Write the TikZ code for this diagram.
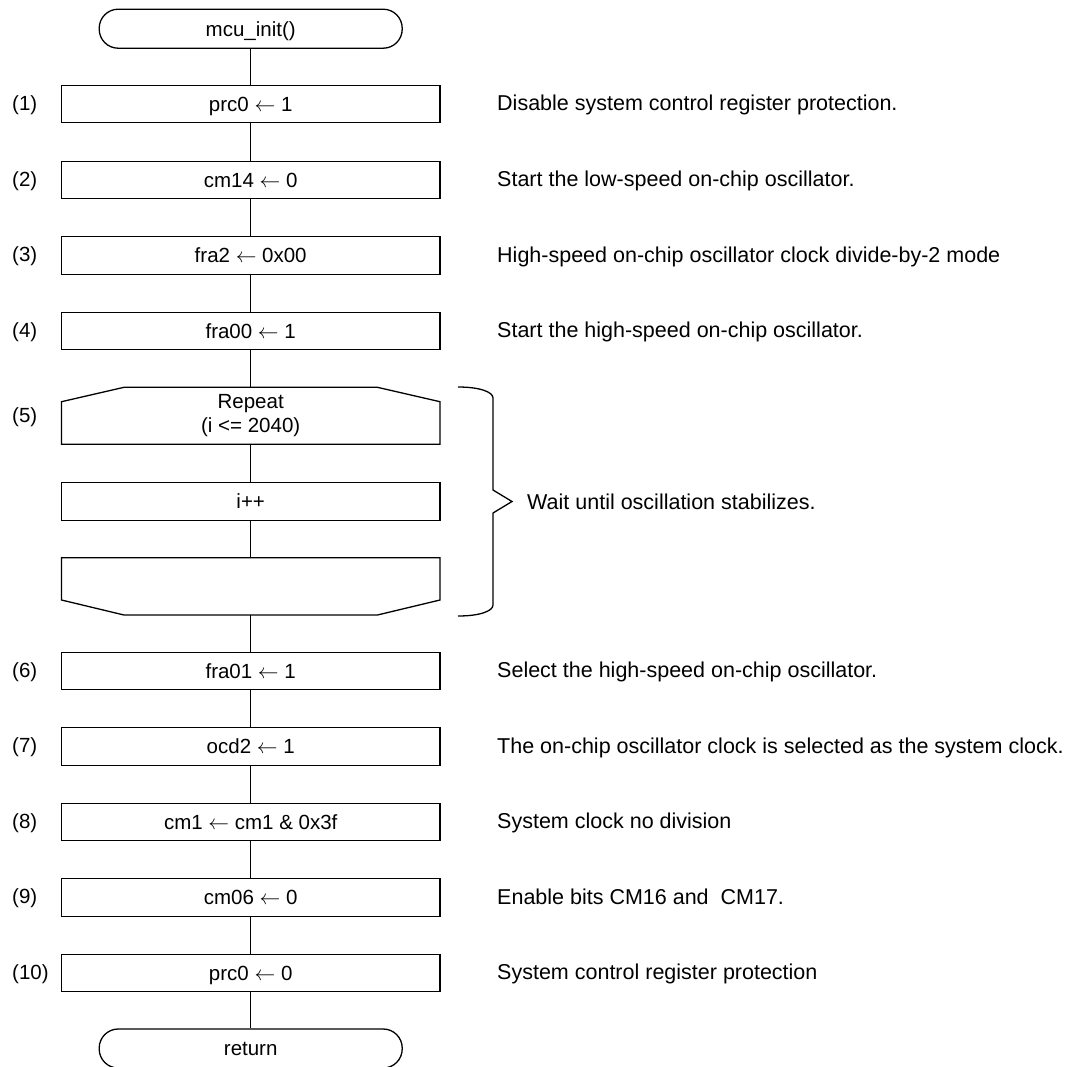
\documentclass[tikz,border=0pt]{standalone}
\usepackage{fontspec}
\setmainfont{Liberation Sans}
\begin{document}
\begin{tikzpicture}[x=1pt,y=-1pt,
  every node/.style={font=\fontsize{20.5}{23.5}\selectfont},
  proc/.style={draw, line width=1.3pt, minimum width=378.5pt, minimum height=37.5pt, inner sep=0pt, text height=14.7pt, text depth=0pt},
  term/.style={draw, line width=1.3pt, rounded corners=19pt, minimum width=303pt, minimum height=39pt, inner sep=0pt, text height=14.7pt, text depth=0pt},
  conn/.style={line width=1.3pt},
  num/.style={anchor=west, inner sep=0pt, text height=14.7pt, text depth=0pt},
  note/.style={anchor=west, inner sep=0pt, font=\fontsize{21.5}{24}\selectfont, text height=15.4pt, text depth=0pt},
  loopbox/.style={minimum width=378.5pt, inner sep=0pt, align=center}
]
\useasboundingbox (0,0) rectangle (1073,1066);
\def\cx{250.7}
% terminals
\node[term] (start) at (\cx,28.7) {mcu\_init()};
\node[term] (ret) at (\cx,1048.5) {return};
% process boxes
\node[proc] (b1) at (\cx,104) {prc0 $\leftarrow$ 1};
\node[proc] (b2) at (\cx,180) {cm14 $\leftarrow$ 0};
\node[proc] (b3) at (\cx,255.5) {fra2 $\leftarrow$ 0x00};
\node[proc] (b4) at (\cx,331) {fra00 $\leftarrow$ 1};
\node[proc] (bi) at (\cx,501.5) {i++};
\node[proc] (b6) at (\cx,671) {fra01 $\leftarrow$ 1};
\node[proc] (b7) at (\cx,746.5) {ocd2 $\leftarrow$ 1};
\node[proc] (b8) at (\cx,822) {cm1 $\leftarrow$ cm1 \& 0x3f};
\node[proc] (b9) at (\cx,897.5) {cm06 $\leftarrow$ 0};
\node[proc] (b10) at (\cx,973) {prc0 $\leftarrow$ 0};
% loop limit shapes
\node[loopbox, minimum height=57pt] (ls) at (\cx,415.8) {Repeat\\(i <= 2040)};
\draw[conn] (61.5,401.7) -- (124,387.3) -- (377.4,387.3) -- (440,401.7) -- (440,444.3) -- (61.5,444.3) -- cycle;
\node[loopbox, minimum height=57.3pt] (le) at (\cx,586.3) {};
\draw[conn] (61.5,557.7) -- (440,557.7) -- (440,600) -- (377.4,615) -- (124,615) -- (61.5,600) -- cycle;
% connectors
\draw[conn] (start.south) -- (b1.north);
\draw[conn] (b1.south) -- (b2.north);
\draw[conn] (b2.south) -- (b3.north);
\draw[conn] (b3.south) -- (b4.north);
\draw[conn] (b4.south) -- (ls.north);
\draw[conn] (ls.south) -- (bi.north);
\draw[conn] (bi.south) -- (le.north);
\draw[conn] (le.south) -- (b6.north);
\draw[conn] (b6.south) -- (b7.north);
\draw[conn] (b7.south) -- (b8.north);
\draw[conn] (b8.south) -- (b9.north);
\draw[conn] (b9.south) -- (b10.north);
\draw[conn] (b10.south) -- (ret.north);
% step numbers
\node[num] (n1) at (12,103) {(1)};
\node[num] (n2) at (12,179) {(2)};
\node[num] (n3) at (12,254.5) {(3)};
\node[num] (n4) at (12,330) {(4)};
\node[num] (n5) at (12,414.8) {(5)};
\node[num] (n6) at (12,670) {(6)};
\node[num] (n7) at (12,745.5) {(7)};
\node[num] (n8) at (12,821) {(8)};
\node[num] (n9) at (12,896.5) {(9)};
\node[num] (n10) at (12,972) {(10)};
% notes
\node[note] (c1) at (497,103) {Disable system control register protection.};
\node[note] (c2) at (497,179) {Start the low-speed on-chip oscillator.};
\node[note] (c3) at (497,254.5) {High-speed on-chip oscillator clock divide-by-2 mode};
\node[note] (c4) at (497,330) {Start the high-speed on-chip oscillator.};
\node[note] (c6) at (497,670) {Select the high-speed on-chip oscillator.};
\node[note] (c7) at (497,745.5) {The on-chip oscillator clock is selected as the system clock.};
\node[note] (c8) at (497,821) {System clock no division};
\node[note] (c9) at (497,896.5) {Enable bits CM16 and \ CM17.};
\node[note] (c10) at (497,972) {System control register protection};
% brace
\draw[conn] (458,387) .. controls (480,387) and (493,392) .. (493,398) -- (493,490) -- (512,501.5) -- (493,513) -- (493,605) .. controls (493,611) and (480,616) .. (458,616);
\node[note] (cw) at (527,501.5) {Wait until oscillation stabilizes.};
\end{tikzpicture}
\end{document}
